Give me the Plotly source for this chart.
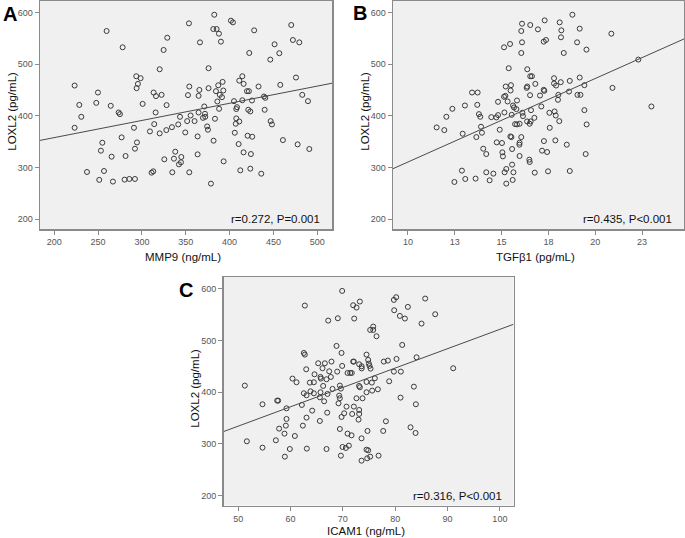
import plotly.graph_objects as go

# ---------------- data ----------------
mmp9 = [382.5,401.5,403.8,353.6,470.3,259.7,381.4,385.2,428,387.8,
        328.9,472.2,479.5,366.2,390.1,451.3,278,324.7,422.4,456.7,
        446.4,376,320.2,293.5,298.5,414.5,475.7,295.4,293.9,411,
        392,416,387,457.8,223.2,354,433,376,365.5,384.4,
        392.8,249.8,313.3,419.8,422,388.8,391.3,364.6,352.5,322.4,
        316,439.2,440.7,482.9,414.5,425.5,386,405,247.9,300.8,
        228.5,264.4,328.1,371.1,388,408.4,407.6,421.3,423.6,440,
        489.4,315.6,273.4,274.9,364.6,371.9,369.6,372.2,355.5,343.4,
        230.8,383.3,407.6,411,360,351.6,446.8,448.3,407,223.2,
        290.9,334.2,341.4,374.4,375.3,309.1,320.2,349.4,405.9,327.8,
        363.5,420.5,425.8,276.8,460.8,381.7,477.6,254.8,294.3,410.3,
        253.2,292,490.9,338,415.9,265.4,281.3,344.9,336.5,363.5,
        424.3,325.5,344.5,342.2,393.2,237.3,256.7,251.3,266.9,280.2,
        285.6,292,312.9,311,334.6,354,378.7,412.2,423.6,436.1,
        314]
loxl2_a = [595.5,584,580.7,578.8,575.6,564,567.8,567.8,565.3,558.8,
           551,546.6,542,542,543.4,538.3,532.5,527.3,521.5,521,
           508.7,492,490,476.5,472.7,476.5,474,461.7,453.4,468,
           465.6,461.7,459,459.8,458.5,456.6,456.6,453.4,450,447.6,
           448.9,445,445,447.6,447.6,440.5,436,438.6,440,440.5,
           438,437.3,434.7,440.5,430,429.6,427.7,428.3,425,423,
           421,419.3,420.6,418,413.5,416.7,413,411.6,408.4,411.6,
           428.3,406.4,406.4,403.2,406.4,403.9,396,398,400.6,398,
           398,394.2,394.9,389,389.7,389.7,389.7,383.3,384.6,376.8,
           376.8,378,383.3,379.4,373,369.8,366,367.8,367.2,372.3,
           360.1,361.4,359.5,358.2,353,351.8,344.7,347.9,348.5,345.3,
           332.5,336.3,335.7,330.5,329.3,320.9,322.2,320.3,317,325.4,
           326,315.8,310,306.1,311.9,291.3,293.2,276,272.7,276.5,
           277.8,277.8,292.6,290,290.7,290.7,268.8,294.5,297.7,288,
           383.9]

tgfb1 = [18.78,17.30,18.10,16.09,16.53,16.94,19.17,16.05,18.19,18.17,
         20.86,17.25,17.37,19.03,16.09,15.45,15.13,19.53,16.05,18.32,
         22.30,15.38,16.37,16.53,16.62,16.80,17.80,18.16,18.64,19.17,
         19.42,20.92,16.37,15.50,15.22,15.48,16.34,15.20,15.13,13.42,
         13.72,16.52,17.28,17.25,17.05,18.03,19.05,19.21,18.60,17.91,
         17.80,18.01,15.82,15.32,14.81,13.70,13.04,12.37,15.61,15.66,
         15.79,15.15,13.79,13.86,15.54,16.11,16.57,17.12,17.55,17.83,
         17.89,18.08,19.42,23.00,11.53,11.94,12.05,12.92,14.45,14.72,
         14.81,16.14,16.36,15.72,15.96,15.82,16.75,16.50,16.55,17.57,
         19.54,13.90,13.95,13.65,14.90,14.02,14.18,14.74,15.02,15.52,
         15.47,16.05,15.96,15.56,15.04,15.07,15.95,17.26,17.87,18.48,
         15.96,16.48,16.50,17.16,17.43,19.49,12.48,12.88,13.06,13.61,
         14.18,14.36,14.56,15.16,15.25,15.56,15.63,15.25,15.59,16.77,
         17.48,18.64]
loxl2_b = [595.5,584.6,580.7,578.1,575.6,567.2,568.5,564.0,565.3,551.8,
           558.8,543.4,546.6,542.1,542.1,538.9,532.5,528.0,521.5,521.5,
           508.7,492.0,490.0,476.5,476.5,461.7,472.7,465.0,467.5,474.0,
           459.2,454.0,456.6,459.2,456.6,448.9,454.0,438.6,436.7,445.0,
           445.0,439.9,448.2,450.2,439.2,440.5,440.5,440.5,446.9,458.5,
           462.4,430.9,429.6,427.7,427.0,421.2,419.9,413.5,419.9,416.1,
           412.9,406.4,403.2,398.1,401.9,405.8,410.9,418.0,405.8,408.4,
           400.6,389.7,410.9,418.0,377.5,372.3,398.1,365.3,397.4,396.8,
           401.3,399.4,389.1,383.9,384.6,383.3,396.1,384.6,389.1,376.8,
           383.3,378.8,367.2,358.8,373.0,336.3,326.0,348.6,347.3,358.8,
           360.1,358.8,347.9,335.7,329.3,321.5,344.1,351.1,352.4,344.1,
           322.2,315.1,310.6,332.5,329.9,326.0,272.0,293.9,277.8,278.5,
           290.7,275.2,288.1,290.7,297.1,305.5,290.7,268.8,275.9,290.0,
           292.6,293.2]

icam1 = [69.87,80.19,79.75,73.25,85.73,62.74,71.97,72.61,82.42,87.64,
         69.04,72.17,67.20,80.89,81.85,79.81,85.03,75.80,75.22,75.80,
         76.43,68.79,81.34,69.75,62.55,62.74,84.08,74.52,80.25,78.60,
         77.83,74.84,74.97,75.10,71.97,72.10,67.83,65.29,66.56,73.12,
         66.11,63.0,73.6,73.6,75.3,69.87,67.39,68.92,79.75,81.08,
         70.9,71.4,71.7,64.59,65.73,65.80,67.71,66.88,63.69,64.46,
         60.38,61.15,66.24,69.43,69.62,74.52,75.54,76.11,73.1,73.25,
         78.85,75.6,76.69,83.57,51.27,63.82,63.06,62.55,64.46,65.73,
         67.07,68.03,69.3,69.43,72.6,73.76,74.52,81.02,57.45,57.64,
         54.65,62.17,65.61,66.43,69.17,83.95,59.24,72.10,70.70,64.14,
         67.01,70.25,71.78,73.12,73.12,69.75,63.06,59.24,78.22,65.61,
         73.0,59.11,62.36,57.83,82.93,69.43,77.71,74.71,58.85,60.83,
         70.9,71.66,83.89,57.20,51.66,71.15,69.94,70.57,73.57,54.65,
         59.87,63.12,66.88,74.52,74.84,58.92,69.62,73.57,74.65,75.22,
         76.82,91.08]
loxl2_c = [596.1,583.9,578.7,575.5,581.3,567.7,568.4,563.9,565.2,551.0,
           543.2,542.6,538.7,547.7,542.6,558.7,532.9,520.6,520.6,527.1,
           508.4,489.7,491.6,476.1,476.1,472.9,467.7,472.9,464.5,461.3,
           459.4,462.6,455.5,451.0,459.4,459.4,459.4,456.1,456.1,454.2,
           446.5,444.5,450.3,446.2,445.8,451.0,440.6,440.0,440.0,440.0,
           437.4,437.4,437.4,434.8,429.7,426.5,429.7,425.2,418.7,419.4,
           426.5,419.4,412.3,412.9,407.1,420.0,418.7,427.1,412.3,409.7,
           421.3,403.2,405.8,410.9,412.9,401.9,394.2,398.1,398.1,400.0,
           396.8,406.5,393.5,388.4,388.4,388.4,400.0,389.7,383.9,383.9,
           376.8,375.5,390.3,382.6,378.7,376.8,369.0,372.3,372.3,364.5,
           360.6,359.4,358.1,358.1,365.8,352.3,351.0,348.4,343.9,344.5,
           347.1,335.5,335.5,329.7,332.3,329.0,325.2,325.2,320.0,315.5,
           320.0,316.8,321.3,307.1,305.2,296.8,294.2,292.3,310.9,292.9,
           290.3,291.0,290.3,289.0,287.7,275.5,277.4,267.7,272.3,275.5,
           277.4,446.5]

# fitted regression lines (slope, intercept) as drawn in the figure
fit_a = [0.332, 291.4]
fit_b = [16.15, 149.1]
fit_c = [3.747, 147.1]

stats_text = ["r=0.272, P=0.001", "r=0.435, P<0.001", "r=0.316, P<0.001"]
x_titles = ["MMP9 (ng/mL)", "TGF\u03b21 (pg/mL)", "ICAM1 (ng/mL)"]
y_title = "LOXL2 (pg/mL)"
panel_letters = ["A", "B", "C"]

x_ticks_a = [200, 250, 300, 350, 400, 450, 500]
x_ticks_b = [10, 12.5, 15, 17.5, 20, 22.5]
x_ticklabels_b = ["10", "13", "15", "18", "20", "23"]
x_ticks_c = [50, 60, 70, 80, 90, 100]
y_ticks = [200, 300, 400, 500, 600]

# ---------------- layout geometry (pixels) ----------------
W, H = 685, 538
FONT = "Liberation Sans, Arial, sans-serif"
panels = [
    dict(x=mmp9, y=loxl2_a, fit=fit_a, xr=[183.7, 516.8], box=(40, 332, 0.5, 229),
         tv=x_ticks_a, tt=[str(v) for v in x_ticks_a], tpos=28, letter=(10, 14)),
    dict(x=tgfb1, y=loxl2_b, fit=fit_b, xr=[9.2, 24.74], box=(393, 684, 0.5, 229),
         tv=x_ticks_b, tt=x_ticklabels_b, tpos=28, letter=(360, 13.5)),
    dict(x=icam1, y=loxl2_c, fit=fit_c, xr=[47.2, 102.6], box=(223.5, 513.5, 277, 505.5),
         tv=x_ticks_c, tt=[str(v) for v in x_ticks_c], tpos=25, letter=(186, 289.5)),
]
YR = [181, 623]

fig = go.Figure()
annotations = []


def ann(text, x, y, size=12, color="#111", bold=False, angle=0, xa="center", ya="middle"):
    annotations.append(dict(
        text=("<b>%s</b>" % text) if bold else text,
        x=x / W, y=1 - y / H, xref="paper", yref="paper",
        showarrow=False, textangle=angle, xanchor=xa, yanchor=ya,
        font=dict(family=FONT, size=size, color=color)))


for i, p in enumerate(panels):
    n = "" if i == 0 else str(i + 1)
    xa, ya = "x" + n, "y" + n
    fig.add_trace(go.Scatter(
        x=p["x"], y=p["y"], mode="markers", xaxis=xa, yaxis=ya,
        marker=dict(symbol="circle-open", size=5, color="#3a3a3a", line=dict(width=1)),
        showlegend=False, hoverinfo="skip"))
    s, b = p["fit"]
    lx = p["xr"]
    fig.add_trace(go.Scatter(
        x=lx, y=[s * v + b for v in lx], mode="lines", xaxis=xa, yaxis=ya,
        line=dict(color="#4a4a4a", width=1), showlegend=False, hoverinfo="skip"))

    x0, x1, y0, y1 = p["box"]
    axis_common = dict(showgrid=False, zeroline=False, showline=True, mirror=True,
                       automargin=False,
                       linecolor="#8a8a8a", linewidth=1.5, ticks="outside", ticklen=4,
                       tickcolor="#8a8a8a", tickwidth=1,
                       tickfont=dict(family=FONT, size=9, color="#555"))
    fig.update_layout(**{
        "xaxis" + n: dict(domain=[x0 / W, x1 / W], anchor=ya, range=p["xr"],
                          tickmode="array", tickvals=p["tv"], ticktext=p["tt"], **axis_common),
        "yaxis" + n: dict(domain=[1 - y1 / H, 1 - y0 / H], anchor=xa, range=YR,
                          tickmode="array", tickvals=y_ticks, **axis_common),
    })

    # axis titles, stats text and panel letter
    ann(x_titles[i], (x0 + x1) / 2 - 3, y1 + p["tpos"], size=11.5)
    ann(y_title, x0 - 28, (y0 + y1) / 2 - 3, size=11.5, angle=-90)
    ann(stats_text[i], x1 - 10, y1 - 10, size=11.5, xa="right")
    lx_, ly_ = p["letter"]
    ann(panel_letters[i], lx_, ly_, size=20, bold=True, color="#000")

fig.update_layout(
    width=W, height=H, margin=dict(l=0, r=0, t=0, b=0, autoexpand=False),
    paper_bgcolor="white", plot_bgcolor="#f0f0f0",
    annotations=annotations, showlegend=False)

fig.write_html("out.html",
               config={"displayModeBar": False, "staticPlot": True},
               post_script="document.body.style.margin='0px';"
                           "document.body.style.overflow='hidden';")
